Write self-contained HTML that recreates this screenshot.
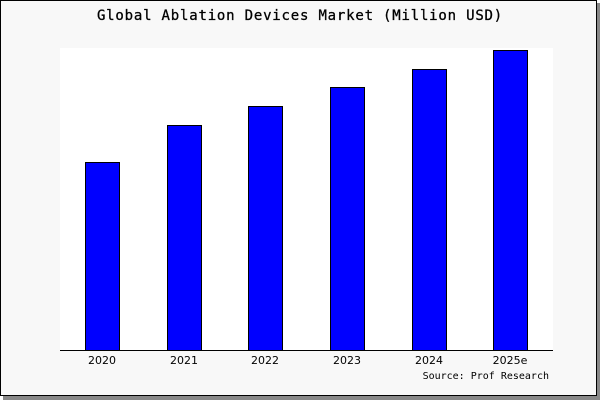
<!DOCTYPE html>
<html><head><style>
body{margin:0;width:600px;height:400px;background:#fff;overflow:hidden}
</style></head><body>
<svg width="600" height="400" xmlns="http://www.w3.org/2000/svg" font-family="'DejaVu Sans Mono','Liberation Mono',monospace">
<rect x="3" y="3" width="597" height="397" fill="#888"/>
<rect x="0.5" y="0.5" width="596" height="395" fill="#f8f8f8" stroke="#000"/>
<text x="300" y="20" text-anchor="middle" font-size="14" letter-spacing="0.8" stroke="#000" stroke-width="0.3">Global Ablation Devices Market (Million USD)</text>
<rect x="60" y="48" width="493" height="302" fill="#fff"/>
<g fill="#0000ff" stroke="#000" stroke-width="1">
<rect x="85.5" y="162.5" width="34" height="188"/>
<rect x="167.5" y="125.5" width="34" height="225"/>
<rect x="248.5" y="106.5" width="34" height="244"/>
<rect x="330.5" y="87.5" width="34" height="263"/>
<rect x="412.5" y="69.5" width="34" height="281"/>
<rect x="493.5" y="50.5" width="34" height="300"/>
</g>
<line x1="60" y1="350.5" x2="553" y2="350.5" stroke="#000"/>
<g font-size="11" text-anchor="middle" font-family="'DejaVu Sans',sans-serif">
<text x="102" y="364">2020</text><text x="184" y="364">2021</text><text x="265" y="364">2022</text>
<text x="347" y="364">2023</text><text x="429" y="364">2024</text><text x="510" y="364">2025e</text>
</g>
<text x="549" y="379" text-anchor="end" font-size="10">Source: Prof Research</text>
</svg>
</body></html>
